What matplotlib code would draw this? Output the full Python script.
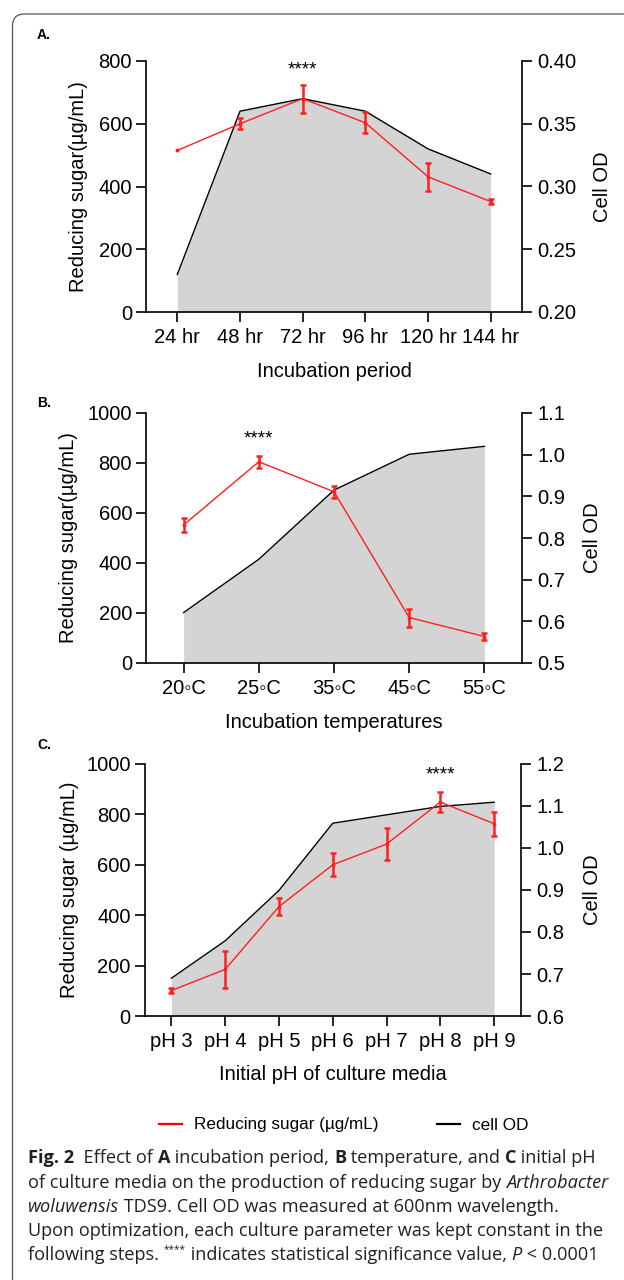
import matplotlib
matplotlib.use('Agg')
import matplotlib.pyplot as plt
from matplotlib.patches import FancyBboxPatch
from matplotlib.lines import Line2D
from matplotlib.transforms import IdentityTransform

plt.rcParams['font.family'] = ['Liberation Sans', 'DejaVu Sans']

# ---------------- data ----------------
period_labels = ['24 hr', '48 hr', '72 hr', '96 hr', '120 hr', '144 hr']
period_sugar = [515, 600, 680, 603, 431, 352]
period_sugar_err = [0, 17, 45, 33, 44, 8]
period_od = [0.230, 0.360, 0.370, 0.360, 0.330, 0.310]

temp_labels = ['20◦C', '25◦C', '35◦C', '45◦C', '55◦C']
temp_sugar = [552, 805, 685, 182, 106]
temp_sugar_err = [29, 23, 24, 36, 15]
temp_od = [0.621, 0.749, 0.915, 1.001, 1.020]

ph_labels = ['pH 3', 'pH 4', 'pH 5', 'pH 6', 'pH 7', 'pH 8', 'pH 9']
ph_sugar = [101, 185, 434, 600, 682, 849, 763]
ph_sugar_err = [9, 72, 34, 46, 64, 41, 48]
ph_od = [0.690, 0.779, 0.899, 1.059, 1.079, 1.099, 1.109]

W, H = 624, 1280
fig = plt.figure(figsize=(W / 100, H / 100), dpi=100)

RED = '#ff1f1f'
GREY = '#d4d4d4'
FS = 14.5


def px_rect(left, top, right, bottom):
    return [left / W, 1 - bottom / H, (right - left) / W, (bottom - top) / H]


def panel(rect, labels, sugar, err, od, sug_lim, sug_ticks, od_lim, od_ticks,
          ylabel, xlabel, star_idx, star_y, letter, letter_xy,
          ylab_x, rlab_x, xlab_y):
    ax = fig.add_axes(rect)
    ax2 = ax.twinx()
    x = list(range(len(labels)))
    # cell OD (right axis)
    ax2.fill_between(x, od, od_lim[0], color=GREY, lw=0)
    ax2.plot(x, od, color='black', lw=1.0)
    ax2.set_ylim(*od_lim)
    ax2.set_yticks(od_ticks)
    ax2.set_yticklabels([f'{t:.2f}' if od_lim[1] < 0.5 else f'{t:.1f}' for t in od_ticks])
    # reducing sugar (left axis) on top
    ax.set_zorder(ax2.get_zorder() + 1)
    ax.patch.set_visible(False)
    ax.errorbar(x, sugar, yerr=err, color=RED, lw=1.0, elinewidth=1.8,
                capsize=2.2, capthick=1.8, marker='o', ms=1.8,
                errorevery=[e > 0 for e in err])
    ax.set_ylim(*sug_lim)
    ax.set_yticks(sug_ticks)
    ax.set_xlim(-0.5, len(labels) - 0.5)
    ax.set_xticks(x)
    ax.set_xticklabels(labels)
    for a in (ax, ax2):
        a.spines['top'].set_visible(False)
        for s in a.spines.values():
            s.set_linewidth(1.2)
        a.tick_params(direction='out', length=7.5, width=1.2, labelsize=FS)
    ax.spines['right'].set_visible(False)
    ax2.spines['left'].set_visible(False)
    ax2.spines['bottom'].set_visible(False)
    ax.tick_params(axis='y', pad=2.5)
    ax.tick_params(axis='x', pad=4)
    ax2.tick_params(axis='y', pad=3.5)
    ax.set_ylabel(ylabel, fontsize=FS)
    ax.yaxis.set_label_coords(ylab_x, 0.5)
    ax2.set_ylabel('Cell OD', fontsize=FS)
    ax2.yaxis.set_label_coords(rlab_x, 0.5)
    ax.set_xlabel(xlabel, fontsize=FS)
    ax.xaxis.set_label_coords(0.5, xlab_y)
    ax.text(star_idx, star_y, '****', ha='center', va='center', fontsize=13.5)
    fig.text(letter_xy[0] / W, 1 - letter_xy[1] / H, letter, fontsize=10,
             fontweight='bold', ha='left', va='center')
    return ax, ax2


axA, axA2 = panel(px_rect(146, 61, 522, 312), period_labels, period_sugar, period_sugar_err,
                  period_od, (0, 800), [0, 200, 400, 600, 800], (0.20, 0.40),
                  [0.20, 0.25, 0.30, 0.35, 0.40], 'Reducing sugar(µg/mL)', 'Incubation period',
                  2, 770, 'A.', (37, 35), -0.154, 1.189, -0.199)
axB, axB2 = panel(px_rect(146, 413, 522, 663), temp_labels, temp_sugar, temp_sugar_err,
                  temp_od, (0, 1000), [0, 200, 400, 600, 800, 1000], (0.5, 1.1),
                  [0.5, 0.6, 0.7, 0.8, 0.9, 1.0, 1.1], 'Reducing sugar(µg/mL)',
                  'Incubation temperatures', 1, 895, 'B.', (37, 403), -0.181, 1.162, -0.2)
axC, axC2 = panel(px_rect(144.5, 764, 521, 1016), ph_labels, ph_sugar, ph_sugar_err,
                  ph_od, (0, 1000), [0, 200, 400, 600, 800, 1000], (0.6, 1.2),
                  [0.6, 0.7, 0.8, 0.9, 1.0, 1.1, 1.2], 'Reducing sugar (µg/mL)',
                  'Initial pH of culture media', 5, 955, 'C.', (37, 745), -0.174, 1.164, -0.194)

# legend
handles = [Line2D([], [], color='red', lw=1.6), Line2D([], [], color='black', lw=1.6)]
fig.legend(handles, ['Reducing sugar (µg/mL)', 'cell OD'], loc='center',
           bbox_to_anchor=(344 / W, 1 - 1125 / H), ncol=2, frameon=False,
           fontsize=12.3, handlelength=1.34, handletextpad=0.7, columnspacing=3.44)

# border
border = FancyBboxPatch((12.5, -30), 700, H - 14 + 30, boxstyle='round,pad=0,rounding_size=12',
                        transform=IdentityTransform(), facecolor='none', edgecolor='#555555',
                        lw=0.9, clip_on=False)
fig.add_artist(border)

# caption
CAP_FONT = ['Open Sans', 'DejaVu Sans']
CAP_FS = 13.05
renderer = fig.canvas.get_renderer()


def text_width(s, **kw):
    t1 = fig.text(0, 0, '|' + s + '|', **kw)
    t2 = fig.text(0, 0, '||', **kw)
    w = t1.get_window_extent(renderer).width - t2.get_window_extent(renderer).width
    t1.remove(); t2.remove()
    return w


def rich_line(y_px, segments, x0=28):
    x = x0
    for seg in segments:
        txt, style = seg[0], seg[1]
        kw = dict(fontsize=CAP_FS, family=CAP_FONT, color='#231f20')
        dy = 0
        if 'b' in style:
            kw['fontweight'] = 'bold'
        if 'i' in style:
            kw['fontstyle'] = 'italic'
        if 's' in style:
            kw['fontsize'] = CAP_FS * 0.55
            dy = 8
        fig.text(x / W, 1 - (y_px - dy) / H, txt, va='baseline', ha='left', **kw)
        x += text_width(txt, **kw)


rich_line(1163, [('Fig. 2', 'b'), ('  Effect of ', ''), ('A', 'b'), (' incubation period, ', ''),
                 ('B', 'b'), (' temperature, and ', ''), ('C', 'b'), (' initial pH', '')])
rich_line(1187.5, [('of culture media on the production of reducing sugar by ', ''),
                   ('Arthrobacter', 'i')])
rich_line(1212, [('woluwensis', 'i'), (' TDS9. Cell OD was measured at 600nm wavelength.', '')])
rich_line(1236, [('Upon optimization, each culture parameter was kept constant in the', '')])
rich_line(1260.5, [('following steps. ', ''), ('****', 's'), (' indicates statistical significance value, ', ''),
                   ('P', 'i'), (' < 0.0001', '')])

fig.savefig('out.png', dpi=100)
